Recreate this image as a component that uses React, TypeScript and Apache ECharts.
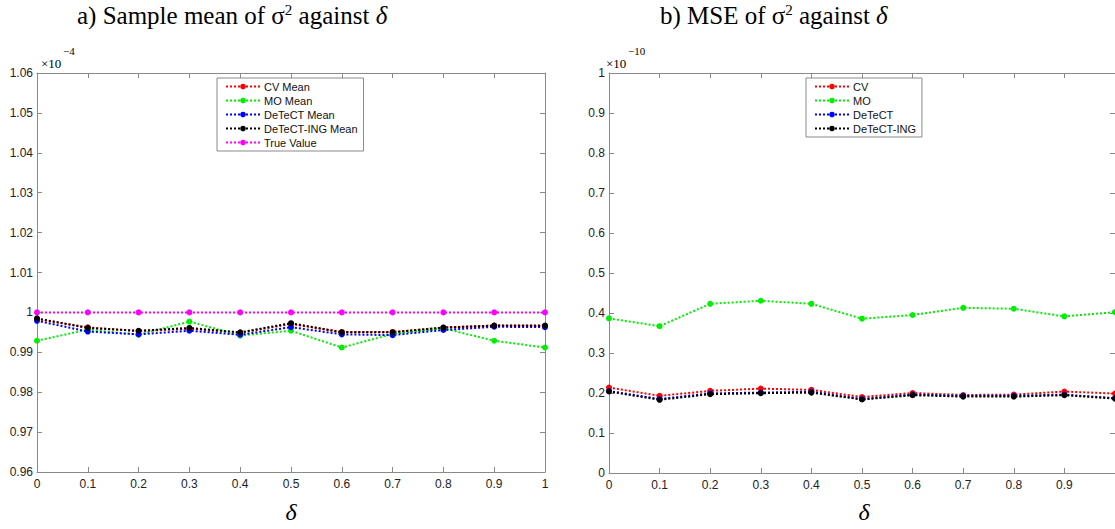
import React, { useEffect, useRef } from "react";
import * as echarts from "echarts";

// x values (delta)
const deltas = [0, 0.1, 0.2, 0.3, 0.4, 0.5, 0.6, 0.7, 0.8, 0.9, 1];

// a) Sample mean of sigma^2, in units of 1e-4
const cvMean = [0.9983, 0.99625, 0.9953, 0.9959, 0.9949, 0.9971, 0.9951, 0.9951, 0.9962, 0.9967, 0.9966];
const moMean = [0.9929, 0.9957, 0.9944, 0.9977, 0.9942, 0.9954, 0.9912, 0.9946, 0.996, 0.9929, 0.9912];
const detectMean = [0.9979, 0.9952, 0.9945, 0.9954, 0.9944, 0.9963, 0.9945, 0.9943, 0.9956, 0.9964, 0.9963];
const detectIngMean = [0.9985, 0.9961, 0.9954, 0.9961, 0.995, 0.9973, 0.995, 0.995, 0.9962, 0.9967, 0.9967];
const trueValue = [1, 1, 1, 1, 1, 1, 1, 1, 1, 1, 1];

// b) MSE of sigma^2, in units of 1e-10
const cvMse = [0.2136, 0.193, 0.2053, 0.211, 0.2078, 0.19, 0.2, 0.195, 0.196, 0.2037, 0.1985];
const moMse = [0.3865, 0.367, 0.423, 0.4306, 0.423, 0.3857, 0.395, 0.413, 0.4106, 0.3915, 0.402];
const detectMse = [0.205, 0.185, 0.199, 0.201, 0.203, 0.185, 0.196, 0.193, 0.193, 0.196, 0.187];
const detectIngMse = [0.2037, 0.183, 0.197, 0.1995, 0.201, 0.1837, 0.1945, 0.191, 0.191, 0.1945, 0.186];

const leftNames = ["CV Mean", "MO Mean", "DeTeCT Mean", "DeTeCT-ING Mean", "True Value"];
const rightNames = ["CV", "MO", "DeTeCT", "DeTeCT-ING"];
const colors = ["#ff0000", "#00ee00", "#0000ff", "#000000", "#ff00ff"];

const SANS = "Liberation Sans, Arial, sans-serif";
const SERIF = "Liberation Serif, Times New Roman, serif";
const FRAME = "#8a8a8a";

const fmt = (v: number) => String(+v.toFixed(2));

function pairs(ys: number[]) {
  return deltas.map((x, i) => [x, ys[i]]);
}

function mkSeries(name: string, ys: number[], color: string, gi: number) {
  return {
    name,
    type: "line",
    xAxisIndex: gi * 2,
    yAxisIndex: gi * 2,
    data: pairs(ys),
    symbol: "circle",
    symbolSize: 6,
    showSymbol: true,
    itemStyle: { color },
    lineStyle: { color, width: 2, type: [2, 2] },
    emphasis: { disabled: true },
  };
}

function xAx(gi: number, labels: boolean, showMax: boolean) {
  return {
    type: "value",
    gridIndex: gi,
    position: labels ? "bottom" : "top",
    min: 0,
    max: 1,
    interval: 0.1,
    axisLine: { show: true, onZero: false, lineStyle: { color: FRAME, width: 1 } },
    axisTick: { show: true, inside: true, length: 5, lineStyle: { color: FRAME } },
    axisLabel: {
      show: labels,
      showMaxLabel: showMax,
      formatter: fmt,
      fontFamily: SANS,
      fontSize: 12,
      color: "#222",
      margin: 6,
    },
    splitLine: { show: false },
  };
}

function yAx(gi: number, labels: boolean, min: number, max: number, interval: number) {
  return {
    type: "value",
    gridIndex: gi,
    position: labels ? "left" : "right",
    min,
    max,
    interval,
    axisLine: { show: true, onZero: false, lineStyle: { color: FRAME, width: 1 } },
    axisTick: { show: true, inside: true, length: 5, lineStyle: { color: FRAME } },
    axisLabel: {
      show: labels,
      formatter: fmt,
      fontFamily: SANS,
      fontSize: 12,
      color: "#222",
      margin: 4,
    },
    splitLine: { show: false },
  };
}

function titleText(x: number, label: string) {
  return {
    type: "text",
    left: x,
    top: 2,
    style: {
      text: `{a|${label} of σ}{s|2}{a| against }{i|δ}`,
      rich: {
        a: { fontFamily: SERIF, fontSize: 25, color: "#000" },
        s: { fontFamily: SERIF, fontSize: 15, color: "#000", padding: [0, 0, 12, 0] },
        i: { fontFamily: SERIF, fontSize: 25, fontStyle: "italic", color: "#000" },
      },
    },
  };
}

function expText(x: number, exp: string) {
  return [
    {
      type: "text",
      left: x,
      top: 57,
      style: { text: "×10", font: `13px ${SERIF}`, fill: "#000" },
    },
    {
      type: "text",
      left: x + 22,
      top: 45,
      style: { text: exp, font: `11px ${SERIF}`, fill: "#000" },
    },
  ];
}

function deltaText(cx: number) {
  return {
    type: "text",
    x: cx,
    y: 512,
    style: {
      text: "δ",
      font: `italic 24px ${SERIF}`,
      fill: "#000",
      align: "center",
      verticalAlign: "middle",
    },
  };
}

function legendCfg(names: string[], left: number) {
  return {
    data: names,
    orient: "vertical",
    left,
    top: 78,
    itemWidth: 34,
    itemHeight: 7,
    itemGap: 1,
    padding: [2, 6, 2, 8],
    borderColor: FRAME,
    borderWidth: 1,
    backgroundColor: "#fff",
    selectedMode: false,
    textStyle: { fontFamily: SANS, fontSize: 11, color: "#111", lineHeight: 13, padding: [0, 0, 0, -1] },
  };
}

export default function App() {
  const ref = useRef<HTMLDivElement>(null);

  useEffect(() => {
    if (!ref.current) return;
    const chart = echarts.init(ref.current, undefined, { renderer: "svg" });
    const leftData = [cvMean, moMean, detectMean, detectIngMean, trueValue];
    const rightData = [cvMse, moMse, detectMse, detectIngMse];
    chart.setOption({
      animation: false,
      backgroundColor: "#fff",
      grid: [
        { left: 37, top: 73, width: 508, height: 399, containLabel: false },
        { left: 609, top: 73, width: 510, height: 400, containLabel: false },
      ],
      xAxis: [xAx(0, true, true), xAx(0, false, true), xAx(1, true, false), xAx(1, false, false)],
      yAxis: [
        yAx(0, true, 0.96, 1.06, 0.01),
        yAx(0, false, 0.96, 1.06, 0.01),
        yAx(1, true, 0, 1, 0.1),
        yAx(1, false, 0, 1, 0.1),
      ],
      legend: [legendCfg(leftNames, 217), legendCfg(rightNames, 806)],
      series: [
        ...leftNames.map((n, i) => mkSeries(n, leftData[i], colors[i], 0)),
        ...rightNames.map((n, i) => mkSeries(n, rightData[i], colors[i], 1)),
      ],
      graphic: [
        titleText(77, "a) Sample mean"),
        titleText(660, "b) MSE"),
        ...expText(41, "−4"),
        ...expText(606, "−10"),
        deltaText(291),
        deltaText(864),
      ],
    });
    return () => chart.dispose();
  }, []);

  return <div ref={ref} style={{ width: 1115, height: 529, position: "absolute", left: 0, top: 0 }} />;
}
